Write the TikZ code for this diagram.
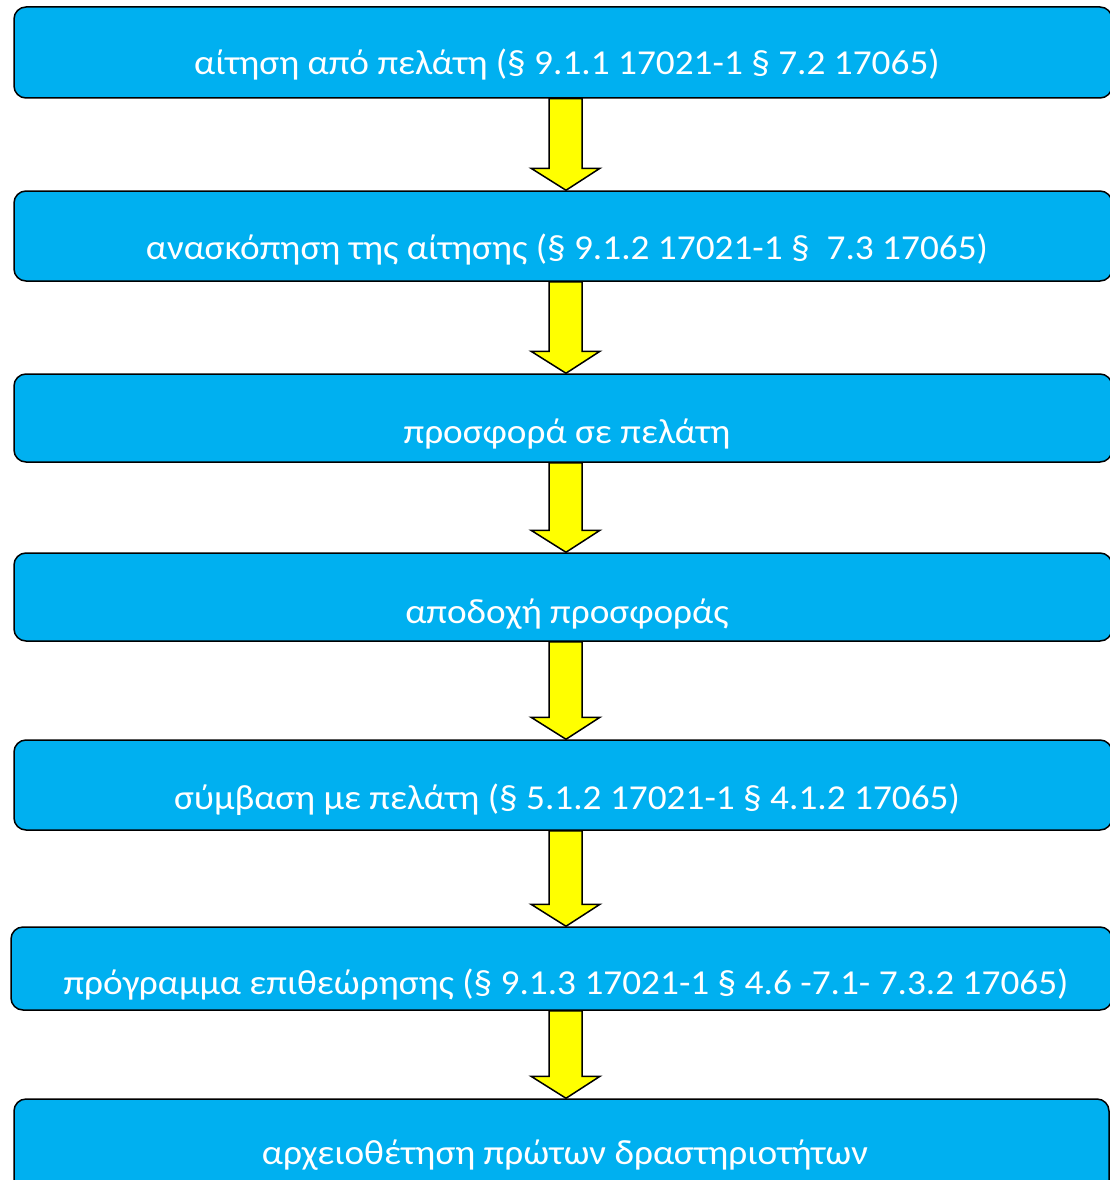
\documentclass[tikz,border=0pt]{standalone}
\usepackage{fontspec}
\setmainfont{Carlito}
\newfontfamily\stagefont[FakeStretch=1.065]{Carlito}
\usetikzlibrary{calc}
\definecolor{boxblue}{HTML}{00B0F0}
\definecolor{arrowyellow}{HTML}{FFFF00}
\tikzset{
  stagebox/.style={draw=black, line width=1.5pt, fill=boxblue, rounded corners=12pt, inner sep=0pt, minimum width=1098pt},
  stagetext/.style={text=white, anchor=base, inner sep=0pt, font=\stagefont\fontsize{35}{42}\selectfont},
  yarrow/.style={draw=black, line width=1.5pt, fill=arrowyellow, line join=miter}
}
\newcommand{\fatarrow}[2]{%
  \draw[yarrow] let \p1=(#1.south), \p2=(#2.north) in
    (549pt,\y1) -- (582pt,\y1) -- (582pt,\y2+22pt) -- (600pt,\y2+22pt)
    -- (566pt,\y2) -- (531pt,\y2+22pt) -- (549pt,\y2+22pt) -- cycle;}
\begin{document}
\begin{tikzpicture}[x=1pt,y=-1pt]
\useasboundingbox (0,0) rectangle (1110,1180);
\clip (0,0) rectangle (1110,1180);
\node[stagebox, minimum height=91pt] (b1) at (563,52.5) {};
\node[stagebox, minimum height=90pt] (b2) at (563,236) {};
\node[stagebox, minimum height=88pt] (b3) at (563,418) {};
\node[stagebox, minimum height=88pt] (b4) at (563,597) {};
\node[stagebox, minimum height=90pt] (b5) at (563,785) {};
\node[stagebox, minimum height=83pt, minimum width=1101pt] (b6) at (561.5,968.5) {};
\node[stagebox, minimum height=100pt, minimum width=1095pt] (b7) at (561.5,1149) {};
\node[stagetext] (t1) at (567,75) {αίτηση από πελάτη (§ 9.1.1 17021-1 § 7.2 17065)};
\node[stagetext] (t2) at (567,259) {ανασκόπηση της αίτησης (§ 9.1.2 17021-1 §~ 7.3 17065)};
\node[stagetext] (t3) at (567,443) {προσφορά σε πελάτη};
\node[stagetext] (t4) at (567,623) {αποδοχή προσφοράς};
\node[stagetext] (t5) at (567,809) {σύμβαση με πελάτη (§ 5.1.2 17021-1 § 4.1.2 17065)};
\node[stagetext] (t6) at (566,994) {πρόγραμμα επιθεώρησης (§ 9.1.3 17021-1 § 4.6 -7.1- 7.3.2 17065)};
\node[stagetext] (t7) at (565,1164) {αρχειοθέτηση πρώτων δραστηριοτήτων};
\fatarrow{b1}{b2}
\fatarrow{b2}{b3}
\fatarrow{b3}{b4}
\fatarrow{b4}{b5}
\fatarrow{b5}{b6}
\fatarrow{b6}{b7}
\end{tikzpicture}
\end{document}
